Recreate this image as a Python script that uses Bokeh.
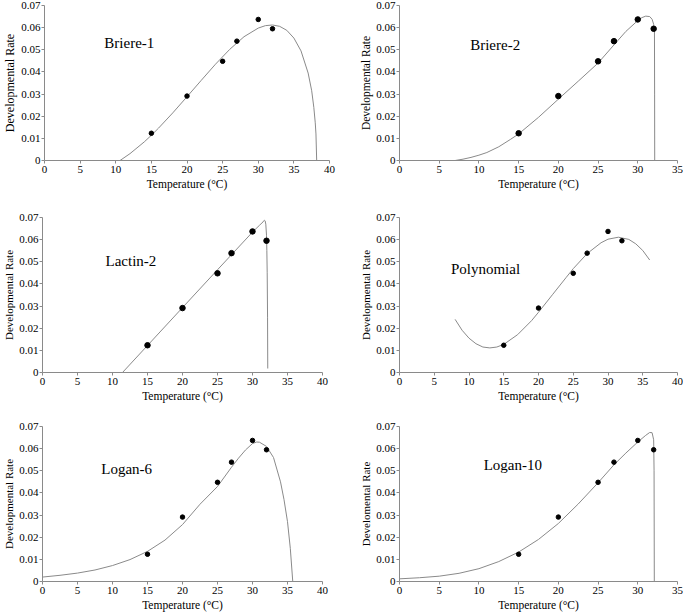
from bokeh.plotting import figure
from bokeh.layouts import column, row
from bokeh.models import Range1d, FixedTicker, CustomJSTickFormatter, Label
from bokeh.embed import file_html
from bokeh.resources import INLINE

# ---- observed data (same for every panel) ----
obs_temp = [15, 20, 25, 27, 30, 32]
obs_rate = [0.0123, 0.0291, 0.0448, 0.0539, 0.0637, 0.0595]

y_ticks = [0, 0.01, 0.02, 0.03, 0.04, 0.05, 0.06, 0.07]
x_ticks_40 = [0, 5, 10, 15, 20, 25, 30, 35, 40]
x_ticks_35 = [0, 5, 10, 15, 20, 25, 30, 35]

# ---- fitted curves ----
briere1_t = [10.6, 12, 14, 15, 16, 18, 20, 22, 24, 26, 28, 30, 31, 32, 33, 34, 35, 36, 37, 37.5, 37.8, 38.0, 38.1, 38.2]
briere1_r = [0.0, 0.0031, 0.0084, 0.0114, 0.0146, 0.0215, 0.0288, 0.0362, 0.0435, 0.0502, 0.0559, 0.0598, 0.0609, 0.0612, 0.0606, 0.0588, 0.0553, 0.0495, 0.0395, 0.0315, 0.0240, 0.0170, 0.0120, 0.0]

briere2_t = [7.0, 8, 9, 10, 11, 12.5, 14, 15, 17.5, 20, 22.5, 25, 27, 28.5, 30, 30.5, 31, 31.5, 31.8, 32.0, 32.1, 32.12, 32.13]
briere2_r = [0.0, 0.0006, 0.0014, 0.0024, 0.0036, 0.0062, 0.0096, 0.0120, 0.0195, 0.0277, 0.0358, 0.0440, 0.0522, 0.0583, 0.0632, 0.0645, 0.0652, 0.0650, 0.0638, 0.0615, 0.0585, 0.0300, 0.0]

lactin2_t = [11.43, 15, 20, 25, 30, 31, 31.5, 31.7, 31.8, 31.9, 32.0, 32.05, 32.1, 32.15, 32.18]
lactin2_r = [0.0, 0.0122, 0.0293, 0.0464, 0.0634, 0.0665, 0.0680, 0.0688, 0.0685, 0.0670, 0.0620, 0.0550, 0.0450, 0.0250, 0.0018]

poly_t = [8, 9, 10, 11, 12, 13, 14, 15, 17, 19, 20, 22, 24, 25, 27, 29, 30, 31.5, 33, 34, 35, 36]
poly_r = [0.0240, 0.0191, 0.0155, 0.0130, 0.0115, 0.0111, 0.0115, 0.0127, 0.0171, 0.0234, 0.0272, 0.0351, 0.0430, 0.0469, 0.0537, 0.0586, 0.0602, 0.0611, 0.0601, 0.0581, 0.0551, 0.0508]

logan6_t = [0, 2.5, 5, 7.5, 10, 12.5, 15, 17.5, 20, 22.5, 25, 27, 28, 29, 30, 30.6, 31, 32, 33, 34, 34.5, 35, 35.4, 35.75]
logan6_r = [0.0020, 0.0028, 0.0038, 0.0052, 0.0072, 0.0099, 0.0136, 0.0187, 0.0257, 0.0349, 0.0429, 0.0516, 0.0557, 0.0594, 0.0623, 0.0630, 0.0629, 0.0610, 0.0560, 0.0450, 0.0370, 0.0270, 0.0150, 0.0]

logan10_t = [0, 2.5, 5, 7.5, 10, 12.5, 15, 17.5, 20, 22.5, 25, 27, 28.5, 30, 31, 31.5, 31.8, 32.0, 32.05, 32.08]
logan10_r = [0.0012, 0.0017, 0.0024, 0.0037, 0.0058, 0.0090, 0.0133, 0.0190, 0.0262, 0.0350, 0.0446, 0.0527, 0.0580, 0.0630, 0.0660, 0.0673, 0.0672, 0.0640, 0.0500, 0.0]

names = ["Briere-1", "Briere-2", "Lactin-2", "Polynomial", "Logan-6", "Logan-10"]
y_labels = ["Developmental Rate"] * 5 + ["Develomental Rate"]
x_label = "Temperature (\u00b0C)"

FONT = "Liberation Serif"
LINE = "#8a8a8a"

fmt = CustomJSTickFormatter(code="return tick == 0 ? '0' : tick.toFixed(2);")


def panel(t, r, name, name_xy, xmax, xticks, ylab, w, h, borders, dot, ylab_size="11px"):
    p = figure(width=w, height=h, output_backend="svg", toolbar_location=None,
               x_range=Range1d(0, xmax), y_range=Range1d(0, 0.07))
    p.min_border_left, p.min_border_right, p.min_border_top, p.min_border_bottom = borders
    p.outline_line_color = None
    p.xgrid.visible = False
    p.ygrid.visible = False
    p.background_fill_color = "white"
    p.border_fill_color = "white"

    p.line(t, r, line_color=LINE, line_width=1)
    p.scatter(obs_temp, obs_rate, size=dot, color="black")

    p.add_layout(Label(x=name_xy[0], y=name_xy[1], text=name, text_font=FONT,
                       text_font_size="15px", text_color="black", text_baseline="middle"))

    for ax in (p.xaxis[0], p.yaxis[0]):
        ax.axis_line_color = LINE
        ax.major_tick_line_color = LINE
        ax.minor_tick_line_color = None
        ax.major_tick_in = 0
        ax.major_tick_out = 3
        ax.major_label_text_font = FONT
        ax.major_label_text_font_size = "11px"
        ax.major_label_text_color = "black"
        ax.axis_label_text_font = FONT
        ax.axis_label_text_font_style = "normal"
        ax.axis_label_text_color = "black"
        ax.major_label_standoff = 2

    p.xaxis.ticker = FixedTicker(ticks=xticks)
    p.yaxis.ticker = FixedTicker(ticks=y_ticks)
    p.yaxis.formatter = fmt
    p.yaxis.major_label_standoff = 1
    p.xaxis.axis_label = x_label
    p.xaxis.axis_label_text_font_size = "11.5px"
    p.xaxis.axis_label_standoff = 2
    p.yaxis.axis_label = ylab
    p.yaxis.axis_label_text_font_size = ylab_size
    p.yaxis.axis_label_standoff = 1
    return p


WL, WR = 340, 343

p1 = panel(briere1_t, briere1_r, names[0], (8.4, 0.053), 40, x_ticks_40, y_labels[0], WL, 200, (42, 11, 5, 37), 4.5, "12px")
p2 = panel(briere2_t, briere2_r, names[1], (8.9, 0.052), 35, x_ticks_35, y_labels[1], WR, 200, (59, 6, 5, 40), 5.5, "11.5px")
p3 = panel(lactin2_t, lactin2_r, names[2], (9.0, 0.0505), 40, x_ticks_40, y_labels[2], WL, 210, (42, 18, 17, 38), 5.5)
p4 = panel(poly_t, poly_r, names[3], (7.4, 0.0467), 40, x_ticks_40, y_labels[3], WR, 210, (59, 6, 16, 38), 4.5)
p5 = panel(logan6_t, logan6_r, names[4], (8.4, 0.0506), 40, x_ticks_40, y_labels[4], WL, 204, (42, 18, 16, 33), 4.5)
p6 = panel(logan10_t, logan10_r, names[5], (10.6, 0.0528), 35, x_ticks_35, y_labels[5], WR, 204, (59, 6, 16, 33), 4.5)

layout = column(row(p1, p2), row(p3, p4), row(p5, p6))

open("out.html", "w").write(file_html(layout, INLINE))
